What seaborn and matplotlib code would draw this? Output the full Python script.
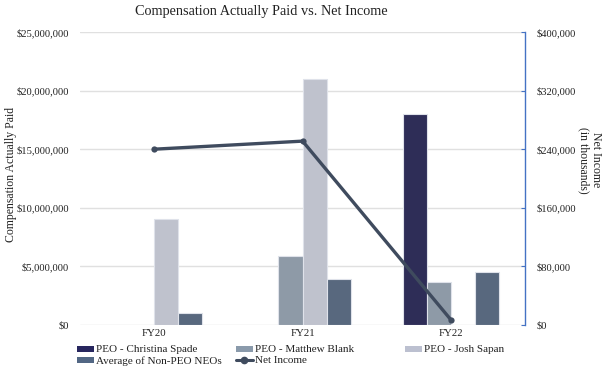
import matplotlib.pyplot as plt
import matplotlib.ticker as mtick
from matplotlib.patches import Patch
from matplotlib.lines import Line2D
import numpy as np
import pandas as pd
import seaborn as sns

years = ['FY20', 'FY21', 'FY22']
series = ['PEO - Christina Spade', 'PEO - Matthew Blank', 'PEO - Josh Sapan', 'Average of Non-PEO NEOs']
spade = [np.nan, np.nan, 18000000]
blank = [np.nan, 5900000, 3700000]
sapan = [9000000, 21000000, np.nan]
non_peo = [1000000, 3900000, 4500000]
net_income = [240000, 251000, 7000]  # in thousands

colors = ['#27265e', '#8a9aab', '#bcc0d0', '#526784']
line_color = '#3f4b5e'
text_color = '#222222'

rows = []
for name, vals in zip(series, [spade, blank, sapan, non_peo]):
    for yr, v in zip(years, vals):
        rows.append({'year': yr, 'series': name, 'value': v})
df = pd.DataFrame(rows)

sns.set_style('white')
plt.rcParams['font.family'] = ['Liberation Serif', 'DejaVu Serif']

fig = plt.figure(figsize=(6.07, 3.68), dpi=100)
ax = fig.add_axes([0.132, 0.117, 0.733, 0.796])

sns.barplot(data=df, x='year', y='value', hue='series', hue_order=series,
            palette=colors, width=0.65, errorbar=None, ax=ax,
            edgecolor='#dfe2ea', linewidth=0.8, legend=False)

money = mtick.FuncFormatter(lambda v, p: '${:,.0f}'.format(v))
ax.set_ylim(0, 25000000)
ax.set_yticks(np.arange(0, 25000001, 5000000))
ax.yaxis.set_major_formatter(money)
ax.set_xlim(-0.5, 2.5)
ax.grid(axis='y', color='#e0e0e0', linewidth=1)
ax.set_axisbelow(True)
for s in ax.spines.values():
    s.set_visible(False)
ax.tick_params(axis='y', length=0, labelsize=7.6, pad=8, colors=text_color)
ax.tick_params(axis='x', length=0, labelsize=7.8, pad=3, colors=text_color)
ax.set_xlabel('')
ax.set_ylabel('Compensation Actually Paid', fontsize=8.5, color=text_color)
ax.yaxis.set_label_coords(-0.141, 0.514)

ax2 = ax.twinx()
sns.lineplot(x=list(range(len(years))), y=net_income, ax=ax2, color=line_color,
             linewidth=2.4, marker='o', markersize=4.5, markeredgewidth=0)
ax2.set_ylim(0, 400000)
ax2.set_yticks(np.arange(0, 400001, 80000))
ax2.yaxis.set_major_formatter(money)
for k, s in ax2.spines.items():
    s.set_visible(k == 'right')
ax2.spines['right'].set_color('#4472c4')
ax2.spines['right'].set_linewidth(1)
ax2.tick_params(axis='y', direction='in', length=3, color='#4472c4', labelsize=7.6,
                pad=8, labelcolor=text_color)
ax2.set_ylabel('Net Income\n(in thousands)', fontsize=8.5, rotation=270,
               color=text_color, va='center', linespacing=1.0)
ax2.yaxis.set_label_coords(1.146, 0.563)
ax2.set_xlim(-0.5, 2.5)

fig.text(261 / 607, 1 - 12 / 368, 'Compensation Actually Paid vs. Net Income',
         fontsize=10.3, ha='center', va='center', color=text_color)

# legend: three columns placed like the original
bar_h = [Patch(facecolor=c, edgecolor='none') for c in colors]
line_h = Line2D([0], [0], color=line_color, linewidth=2.2, marker='o', markersize=4.5)
columns = [
    (77, [bar_h[0], bar_h[3]], [series[0], series[3]]),
    (236, [bar_h[1], line_h], [series[1], 'Net Income']),
    (405, [bar_h[2]], [series[2]]),
]
for xpx, hs, ls in columns:
    fig.legend(hs, ls, loc='upper left', bbox_to_anchor=(xpx / 607, 1 - 345.5 / 368),
               frameon=False, fontsize=8, handlelength=1.5, handleheight=0.45,
               handletextpad=0.2, labelspacing=0.15, borderpad=0, borderaxespad=0,
               labelcolor=text_color)

fig.savefig('out.png', dpi=100)
